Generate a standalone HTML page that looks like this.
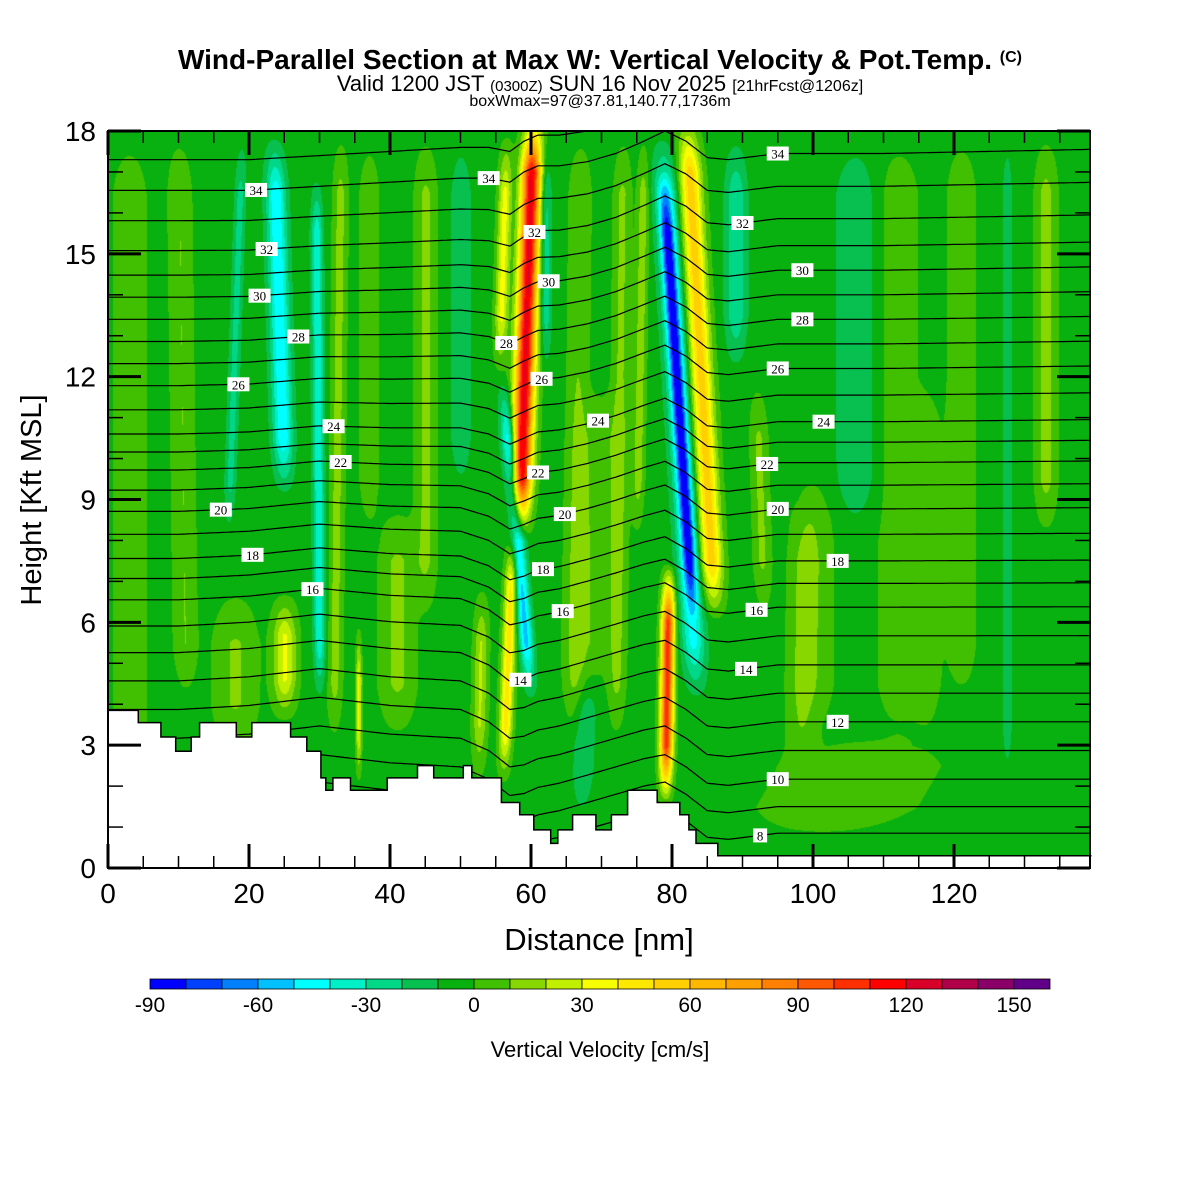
<!DOCTYPE html>
<html><head><meta charset="utf-8">
<style>
html,body{margin:0;padding:0;background:#fff;}
#wrap{position:relative;width:1200px;height:1200px;overflow:hidden;font-family:"Liberation Sans",sans-serif;}
#field{position:absolute;left:108px;top:131px;}
#ov{position:absolute;left:0;top:0;}
</style></head>
<body>
<div id="wrap">
<canvas id="field" width="982" height="737"></canvas>
<svg id="ov" width="1200" height="1200" xmlns="http://www.w3.org/2000/svg">
<defs><clipPath id="pc"><rect x="108" y="131" width="982" height="737"/></clipPath></defs>
<g id="contours" clip-path="url(#pc)"></g>
<polygon id="terrain" fill="#fff" stroke="#000" stroke-width="1.5"></polygon>
<g id="labels"></g>
<rect x="108" y="131" width="982" height="737" fill="none" stroke="#000" stroke-width="2"/>
<g id="ticks"></g>
<g id="xlabels" font-size="28" text-anchor="middle"></g>
<g id="ylabels" font-size="28" text-anchor="end"></g>
<text x="599" y="950" font-size="31" text-anchor="middle">Distance [nm]</text>
<text x="0" y="0" font-size="29" text-anchor="middle" transform="translate(41,500) rotate(-90)">Height [Kft MSL]</text>
<text x="600" y="69" font-size="28" font-weight="bold" text-anchor="middle">Wind-Parallel Section at Max W: Vertical Velocity &amp; Pot.Temp. <tspan font-size="16" dy="-7">(C)</tspan></text>
<text x="600" y="91" font-size="22" text-anchor="middle">Valid 1200 JST <tspan font-size="15">(0300Z)</tspan> SUN 16 Nov 2025 <tspan font-size="16">[21hrFcst@1206z]</tspan></text>
<text x="600" y="106" font-size="16" text-anchor="middle">boxWmax=97@37.81,140.77,1736m</text>
<g id="cbar"></g>
<g id="cbarlabels" font-size="21" text-anchor="middle"></g>
<text x="600" y="1057" font-size="22" text-anchor="middle">Vertical Velocity [cm/s]</text>
</svg>
</div>
<script>
// ---- data ----
const colorLevels = [-90,-80,-70,-60,-50,-40,-30,-20,-10,0,10,20,30,40,50,60,70,80,90,100,110,120,130,140,150];
const colorHex = ["#0000ff","#0040ff","#0080ff","#00c0ff","#00ffff","#00f0c8","#00d888","#08c050","#08b010","#40c000","#88d800","#c0f000","#f8ff00","#ffe800","#ffd000","#ffb800","#ffa000","#ff8000","#ff5800","#ff3000","#ff0000","#d80028","#b00048","#880068","#600088"];
const cbarTicks = [-90,-60,-30,0,30,60,90,120,150];
const xTicks = [0,20,40,60,80,100,120];
const yTicks = [0,3,6,9,12,15,18];
const wBase = -4;
// streak features: x bottom, h bottom, x top, h top, amplitude (cm/s), half-width (nm)
const featXb = [3,11,17,25,30,32,25,18,35.5,41,45,37,50,52.5, 55.5,58.3,56,60,62, 66,72,75,68,67, 83.5,83,86,79,89, 93,106,112,121,127.5,133,100,98,100,116];
const featHb = [1,4,8,9,4,3,3.5,2.5,2,3,6,8,9,2, 12,8,2,4,12, 3,3,8,4,1, 4,6,6,1.5,12, 6,8,3,4,2,8,0.5,2,3,3];
const featXt = [3,10,19,23.5,29.5,33,25,18,35.5,41,45,37,50,53, 56.5,60.3,57.5,56,62, 67,73,76,70,68, 78.5,78.7,82,79.5,89, 92,106,112,121,127.5,133,110,99,100,116];
const featHt = [18,18,18,18,17,18,6.8,7,6,9,18,18,18,7, 18,18.5,8.5,12,18, 18,18,18,12,5, 18,17,18.5,7.5,18, 12,18,18,18,18,18,3.5,9,10,12];
const featAmp = [10,14,-20,-45,-35,18,35,15,35,16,16,10,-14,25, 38,125,50,-50,-25, 14,16,20,12,-15, -40,-50,60,110,-25, 16,-14,10,12,-14,18,10,12,10,10];
const featW = [2.5,1.6,0.8,1.4,0.8,1.0,1.6,3,0.4,2.5,1.5,1.5,1.5,1, 0.9,1.4,0.9,1.0,0.8, 1.5,1.2,0.8,3,1.5, 1.6,0.9,1.5,0.9,1.5, 1.2,3,3,2,0.7,1.5,12,2,3,2];
// potential temperature
const thetaLevels = [7,8,9,10,11,12,13,14,15,16,17,18,19,20,21,22,23,24,25,26,27,28,29,30,31,32,33,34,35];
const thetaBaseH = [0.3,0.85,1.5,2.17,2.87,3.57,4.27,4.96,5.67,6.37,6.95,7.5,8.15,8.77,9.35,9.9,10.4,10.9,11.55,12.2,12.8,13.4,14.0,14.6,15.2,15.86,16.65,17.45,18.2];
const dispX = [0,10,20,30,40,50,54,57,59,61,64,68,72,76,79,82,85,88,95,110,139];
const dispTop = [-0.9,-0.9,-0.9,-0.8,-0.7,-0.6,-0.6,-0.7,-0.45,-0.3,-0.3,-0.2,0.0,0.3,0.55,0.3,-0.1,-0.15,0,0,0.1];
const dispLow = [0.3,0.3,0.4,0.6,0.4,0.3,0.0,-0.4,-0.35,-0.2,-0.1,0.1,0.3,0.5,0.6,0.3,-0.1,-0.15,0,0,0];
const labelTheta = [34,32,30,28,26,24,22,20,18,16, 34,32,30,28,26,24,22,20,18,16,14, 34,32,30,28,26,24,22,20,18,16,14,12,10,8];
const labelX = [21,22.5,21.5,27,18.5,32,33,16,20.5,29, 54,60.5,62.5,56.5,61.5,69.5,61,64.8,61.7,64.5,58.5, 95,90,98.5,98.5,95,101.5,93.5,95,103.5,92,90.5,103.5,95,92.5];
// terrain outline (nm, kft) steps
const terrX = [0,4.3,7.5,9.6,11.8,13,18.2,20.4,25.9,28.2,30.2,30.9,31.9,34.4,39.6,43.9,46.2,50.4,51.6,55.8,56.3,58.4,60.4,62.8,63.8,65.9,69.2,71.4,73.7,77.9,81.1,82.4,83.4,86.5,139.5];
const terrH = [3.85,3.55,3.2,2.85,3.2,3.55,3.2,3.55,3.2,2.85,2.2,1.9,2.2,1.9,2.2,2.5,2.2,2.5,2.2,1.6,1.6,1.3,0.93,0.6,0.93,1.3,0.93,1.3,1.9,1.6,1.3,0.93,0.6,0.3,0.3];

// ---- scales ----
const X0=108,X1=1090,Y0=868,Y1=131,XMAX=(X1-X0)/7.05,YMAX=18;
const sx = v => X0 + v*7.05;
const sy = v => Y0 - v*(Y0-Y1)/YMAX;
const NS="http://www.w3.org/2000/svg";
function interp(xs,ys,x){ if(x<=xs[0])return ys[0]; for(let i=1;i<xs.length;i++){ if(x<=xs[i]){const t=(x-xs[i-1])/(xs[i]-xs[i-1]);return ys[i-1]+t*(ys[i]-ys[i-1]);} } return ys[ys.length-1]; }
function hexRGB(h){return [parseInt(h.substr(1,2),16),parseInt(h.substr(3,2),16),parseInt(h.substr(5,2),16)];}

// ---- field ----
(function(){
 const cv=document.getElementById('field'),ctx=cv.getContext('2d');
 const W=cv.width,H=cv.height,img=ctx.createImageData(W,H),d=img.data;
 const rgb=colorHex.map(hexRGB);
 const nF=featAmp.length;
 for(let py=0;py<H;py++){
  const h=(H-py)/H*YMAX;
  const cx=[],fa=[];
  for(let k=0;k<nF;k++){
   const hb=featHb[k],ht=featHt[k];
   let t=(h-hb)/(ht-hb); t=Math.max(0,Math.min(1,t));
   cx.push(featXb[k]+t*(featXt[k]-featXb[k]));
   const tp=Math.min(1.5,(ht-hb)/3);
   const f=Math.max(0,Math.min(1,(h-hb)/tp))*Math.max(0,Math.min(1,(ht-h)/tp));
   fa.push(f*featAmp[k]);
  }
  for(let px=0;px<W;px++){
   const x=px/7.05;
   let w=wBase;
   for(let k=0;k<nF;k++){ if(fa[k]===0)continue; const dx=(x-cx[k])/featW[k]; if(dx*dx<16) w+=fa[k]*Math.exp(-dx*dx); }
   let idx=Math.floor((w-colorLevels[0])/10); idx=Math.max(0,Math.min(colorHex.length-1,idx));
   const c=rgb[idx],o=(py*W+px)*4; d[o]=c[0];d[o+1]=c[1];d[o+2]=c[2];d[o+3]=255;
  }
 }
 ctx.putImageData(img,0,0);
})();

// ---- contours ----
function thetaH(th,x){
 const b=interp(thetaLevels,thetaBaseH,th);
 const a=Math.max(0,Math.min(1,(th-14)/20));
 const dt=interp(dispX,dispTop,x),dl=interp(dispX,dispLow,x);
 return b+dl+(dt-dl)*a;
}
const cg=document.getElementById('contours');
thetaLevels.forEach(th=>{
 let pts=[];
 for(let x=0;x<=XMAX+0.5;x+=0.5){ pts.push(sx(x).toFixed(1)+','+sy(thetaH(th,x)).toFixed(1)); }
 const pl=document.createElementNS(NS,'polyline');
 pl.setAttribute('points',pts.join(' '));
 pl.setAttribute('fill','none');pl.setAttribute('stroke','#000');pl.setAttribute('stroke-width','1.2');
 
 
 cg.appendChild(pl);
});
// terrain
(function(){
 let pts=[];
 for(let i=0;i<terrX.length;i++){
  const x1=sx(terrX[i]), x2=sx(i+1<terrX.length?terrX[i+1]:XMAX), y=sy(terrH[i]);
  pts.push(x1.toFixed(1)+','+y.toFixed(1)); pts.push(Math.min(x2,X1).toFixed(1)+','+y.toFixed(1));
 }
 pts.push(X1+','+Y0); pts.push(X0+','+Y0);
 document.getElementById('terrain').setAttribute('points',pts.join(' '));
})();
// labels
const lg=document.getElementById('labels');
labelTheta.forEach((th,i)=>{
 const x=sx(labelX[i]),y=sy(thetaH(th,labelX[i]));
 const s=String(th),w=s.length*8+6;
 const g=document.createElementNS(NS,'g');
 
 
 const r=document.createElementNS(NS,'rect');
 r.setAttribute('x',x-w/2);r.setAttribute('y',y-7);r.setAttribute('width',w);r.setAttribute('height',14);r.setAttribute('fill','#fff');
 const t=document.createElementNS(NS,'text');
 t.setAttribute('x',x);t.setAttribute('y',y+5);t.setAttribute('font-size','13');t.setAttribute('text-anchor','middle');
 t.setAttribute('font-family','"Liberation Serif",serif');t.textContent=s;
 g.appendChild(r);g.appendChild(t);lg.appendChild(g);
});
// ticks
const tg=document.getElementById('ticks');
function line(x1,y1,x2,y2,w,name){const l=document.createElementNS(NS,'line');l.setAttribute('x1',x1);l.setAttribute('y1',y1);l.setAttribute('x2',x2);l.setAttribute('y2',y2);l.setAttribute('stroke','#000');l.setAttribute('stroke-width',w);
 
 
 tg.appendChild(l);}
for(let v=0;v<=XMAX;v+=5){const x=sx(v),maj=v%20===0,L=maj?24:12,w=maj?3:1.5;line(x,Y0,x,Y0-L,w,'x-tick');line(x,Y1,x,Y1+L,w,'x-tick-top');}
for(let v=0;v<=18;v+=1){const y=sy(v),maj=v%3===0,L=maj?33:15,w=maj?3:1.5;line(X0,y,X0+L,y,w,'y-tick');line(X1,y,X1-L,y,w,'y-tick-right');}
const xl=document.getElementById('xlabels');
xTicks.forEach(v=>{const t=document.createElementNS(NS,'text');t.setAttribute('x',sx(v));t.setAttribute('y',903);t.textContent=v;
 
 
 xl.appendChild(t);});
const yl=document.getElementById('ylabels');
yTicks.forEach(v=>{const t=document.createElementNS(NS,'text');t.setAttribute('x',96);t.setAttribute('y',sy(v)+10);t.textContent=v;
 
 
 yl.appendChild(t);});
// colorbar
const cb=document.getElementById('cbar'),cbx=v=>150+(v+90)*3.6;
colorLevels.forEach((v,i)=>{const r=document.createElementNS(NS,'rect');r.setAttribute('x',cbx(v));r.setAttribute('y',979);r.setAttribute('width',36);r.setAttribute('height',10);r.setAttribute('fill',colorHex[i]);r.setAttribute('stroke','#000');r.setAttribute('stroke-width','0.8');
 
 
 cb.appendChild(r);});
const cbl=document.getElementById('cbarlabels');
cbarTicks.forEach(v=>{const t=document.createElementNS(NS,'text');t.setAttribute('x',cbx(v));t.setAttribute('y',1012);t.textContent=v;
 
 
 cbl.appendChild(t);});
</script>
</body></html>
